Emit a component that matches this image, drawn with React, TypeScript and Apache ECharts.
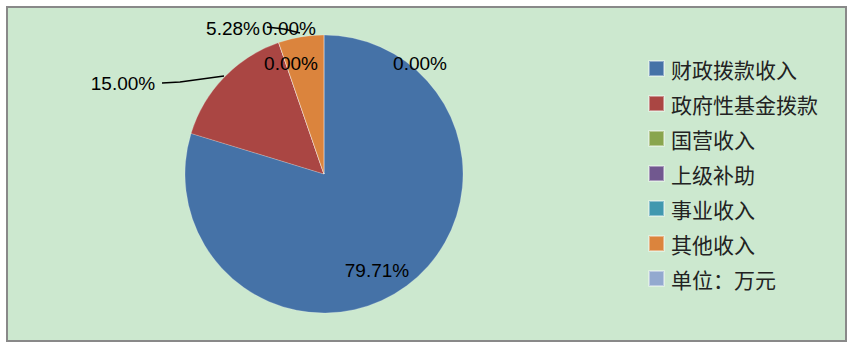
import React, { useEffect, useRef } from "react";
import * as echarts from "echarts";

const categories = ["财政拨款收入", "政府性基金拨款", "国营收入", "上级补助", "事业收入", "其他收入", "单位：万元"];
const shares = [79.71, 15.0, 0, 0, 0, 5.28, 0];
const colors = ["#4572a7", "#aa4643", "#89a54e", "#71588f", "#4198af", "#db843d", "#93a9cf"];

// label anchor positions (page px) and leader lines, per slice
const labelPos: number[][] = [
  [377, 270],
  [123, 83],
  [289, 28],
  [291, 63],
  [291, 63],
  [233, 28],
  [420, 63],
];
const showLabel = [true, true, true, true, false, true, true];
const leaderLines: (number[][] | null)[] = [
  null,
  [[162, 83], [180, 82], [224, 76]],
  null,
  null,
  null,
  [[267, 27], [284, 29], [300, 33]],
  null,
];

export default function App() {
  const ref = useRef<HTMLDivElement>(null);
  useEffect(() => {
    if (!ref.current) return;
    const chart = echarts.init(ref.current, undefined, { renderer: "svg" });
    chart.setOption({
      animation: false,
      color: colors,
      graphic: [
        {
          type: "rect",
          z: -10,
          silent: true,
          shape: { x: 7, y: 7, width: 839, height: 334 },
          style: { fill: "#cce8cf", stroke: "#898989", lineWidth: 2 },
        },
      ],
      legend: {
        orient: "vertical",
        left: 648,
        top: 58,
        padding: 0,
        itemWidth: 15,
        itemHeight: 15,
        itemGap: 14,
        icon: "rect",
        textStyle: {
          fontFamily: "Noto Sans CJK SC",
          fontSize: 21,
          lineHeight: 21,
          color: "#222",
          padding: [0, 0, 0, 2],
        },
        data: categories,
      },
      series: [
        {
          type: "pie",
          center: [324, 174],
          radius: 139,
          startAngle: 90,
          clockwise: true,
          avoidLabelOverlap: false,
          itemStyle: { borderColor: "rgba(255,255,255,0.4)", borderWidth: 0.5 },
          label: {
            show: true,
            position: "outside",
            color: "#000",
            fontFamily: "Liberation Sans",
            fontSize: 19,
            formatter: (p: any) => `${Number(p.value).toFixed(2)}%`,
          },
          labelLine: { show: false, lineStyle: { color: "#000", width: 1.5 } },
          labelLayout: (params: any) => {
            const i = params.dataIndex;
            const pos = labelPos[i];
            const res: any = {
              x: pos[0],
              y: pos[1],
              align: "center",
              verticalAlign: "middle",
              hideOverlap: false,
              moveOverlap: null,
            };
            if (leaderLines[i]) res.labelLinePoints = leaderLines[i];
            return res;
          },
          data: categories.map((name, i) => ({
            name,
            value: shares[i],
            label: { show: showLabel[i] },
            labelLine: { show: !!leaderLines[i] },
          })),
        },
      ],
    });
    return () => chart.dispose();
  }, []);
  return (
    <div
      ref={ref}
      style={{ position: "absolute", left: 0, top: 0, width: 857, height: 347, background: "#fff" }}
    />
  );
}
